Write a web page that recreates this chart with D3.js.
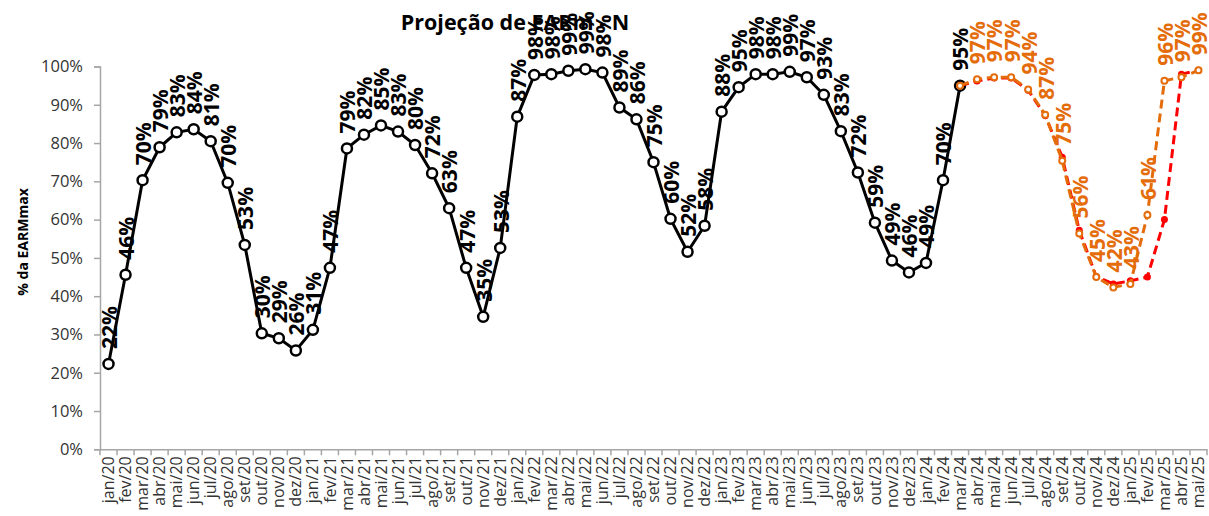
<!DOCTYPE html>
<html><head><meta charset="utf-8">
<script src="https://cdn.jsdelivr.net/npm/d3@7"></script>
<style>
html,body{margin:0;padding:0;background:#fff;}
svg{display:block;font-family:"Open Sans",sans-serif;}
</style></head>
<body><svg id="c" width="1209" height="516"></svg>
<script>
const categories = ["jan/20","fev/20","mar/20","abr/20","mai/20","jun/20","jul/20","ago/20","set/20","out/20","nov/20","dez/20",
"jan/21","fev/21","mar/21","abr/21","mai/21","jun/21","jul/21","ago/21","set/21","out/21","nov/21","dez/21",
"jan/22","fev/22","mar/22","abr/22","mai/22","jun/22","jul/22","ago/22","set/22","out/22","nov/22","dez/22",
"jan/23","fev/23","mar/23","abr/23","mai/23","jun/23","jul/23","ago/23","set/23","out/23","nov/23","dez/23",
"jan/24","fev/24","mar/24","abr/24","mai/24","jun/24","jul/24","ago/24","set/24","out/24","nov/24","dez/24",
"jan/25","fev/25","mar/25","abr/25","mai/25"];

// Verificado (jan/20 .. mar/24)
const verificado = [22.3,45.6,70.3,78.9,82.8,83.6,80.5,69.6,53.4,30.3,29.0,25.8,
 31.2,47.4,78.6,82.2,84.6,83.0,79.5,72.1,63.0,47.4,34.6,52.6,
 86.9,97.8,98.0,98.9,99.3,98.4,89.3,86.2,75.0,60.2,51.6,58.4,
 88.2,94.6,98.0,98.0,98.6,97.2,92.6,83.1,72.3,59.2,49.3,46.2,
 48.7,70.3,95.0];

// Projeções (mar/24 .. mai/25)
const projCategories = ["mar/24","abr/24","mai/24","jun/24","jul/24","ago/24","set/24","out/24","nov/24","dez/24","jan/25","fev/25","mar/25","abr/25","mai/25"];
const projLaranja = [95.0,96.7,97.2,97.2,94.0,87.4,75.4,56.4,45.0,42.3,43.2,61.2,96.3,97.2,99.0];
const projVermelha = [95.0,96.2,97.0,97.0,93.8,87.2,76.3,57.2,45.1,43.2,44.0,45.0,60.0,98.0,99.0];

const yTicks = [0,10,20,30,40,50,60,70,80,90,100];
const chartTitle = "Projeção de EARm - N";
const yTitle = "% da EARMmax";

const svg = d3.select("#c");
const mLeft = 100, mRight = 1207, mTop = 66.5, mBottom = 449.3;

const x = d3.scaleBand().domain(categories).range([mLeft, mRight]).paddingInner(0).paddingOuter(0);
const y = d3.scaleLinear().domain([0, 100]).range([mBottom, mTop]);
const cx = c => x(c) + x.bandwidth() / 2;
const fmt = v => d3.format(".0f")(v) + "%";

// title (drawn first so labels overlap it)
svg.append("text").attr("x", 515).attr("y", 30).attr("text-anchor", "middle")
  .attr("font-size", 21.5).attr("font-weight", "bold").attr("fill", "#000").text(chartTitle);

// y axis
const yAxis = d3.axisLeft(y).tickValues(yTicks).tickFormat(d => d + "%").tickSize(6).tickPadding(11);
const gy = svg.append("g").attr("transform", `translate(${mLeft},0)`).call(yAxis);
gy.select(".domain").attr("stroke", "#a6a6a6").attr("stroke-width", 1.5);
gy.selectAll(".tick line").attr("stroke", "#a6a6a6").attr("stroke-width", 1.5);
gy.selectAll(".tick text").attr("font-size", 16.5).attr("fill", "#333").attr("font-family", "Open Sans, sans-serif");

// x axis
const xAxis = d3.axisBottom(x).tickSize(0).tickPadding(0);
const gx = svg.append("g").attr("transform", `translate(0,${mBottom})`).call(xAxis);
gx.select(".domain").attr("stroke", "#a6a6a6").attr("stroke-width", 1.5);
gx.selectAll(".tick text")
  .attr("font-size", 16).attr("fill", "#333").attr("font-family", "Open Sans, sans-serif")
  .attr("text-anchor", "end").attr("transform", "rotate(-90)")
  .attr("x", -7).attr("y", 0).attr("dy", "0.35em");
// boundary ticks
gx.selectAll(".btick").data(d3.range(categories.length + 1)).enter().append("line")
  .attr("x1", i => mLeft + i * x.step()).attr("x2", i => mLeft + i * x.step())
  .attr("y1", 0).attr("y2", 6).attr("stroke", "#a6a6a6").attr("stroke-width", 1.5);

// y title
svg.append("text").attr("transform", "translate(28,242) rotate(-90)").attr("text-anchor", "middle")
  .attr("font-size", 14).attr("font-weight", "bold").attr("fill", "#000").text(yTitle);

const line = d3.line().x(d => cx(d.c)).y(d => y(d.v));
const vData = verificado.map((v, i) => ({c: categories[i], v}));
const lData = projLaranja.map((v, i) => ({c: projCategories[i], v}));
const rData = projVermelha.map((v, i) => ({c: projCategories[i], v}));

// black series
svg.append("path").datum(vData).attr("d", line).attr("fill", "none").attr("stroke", "#000").attr("stroke-width", 3);
svg.selectAll(".mv").data(vData).enter().append("circle")
  .attr("cx", d => cx(d.c)).attr("cy", d => y(d.v)).attr("r", 5)
  .attr("fill", "#fff").attr("stroke", "#000").attr("stroke-width", 2.5);

// red series
svg.append("path").datum(rData).attr("d", line).attr("fill", "none").attr("stroke", "#ff0000")
  .attr("stroke-width", 3).attr("stroke-dasharray", "9,5");
svg.selectAll(".mr").data(rData).enter().append("circle")
  .attr("cx", d => cx(d.c)).attr("cy", d => y(d.v)).attr("r", 3.5).attr("fill", "#ff0000");

// orange series
const orange = "#e46c0a";
svg.append("path").datum(lData).attr("d", line).attr("fill", "none").attr("stroke", orange)
  .attr("stroke-width", 3).attr("stroke-dasharray", "9,5");
svg.selectAll(".mo").data(lData).enter().append("circle")
  .attr("cx", d => cx(d.c)).attr("cy", d => y(d.v)).attr("r", 3)
  .attr("fill", "#fff").attr("stroke", orange).attr("stroke-width", 2);

// labels
function labels(data, color) {
  svg.selectAll(null).data(data).enter().append("text")
    .attr("transform", d => `translate(${cx(d.c) + 1},${y(d.v) - 15}) rotate(-90)`)
    .attr("dy", "0.35em").attr("text-anchor", "start")
    .attr("font-size", 21).attr("font-weight", "bold").attr("fill", color)
    .text(d => fmt(d.v));
}
labels(lData.slice(1), orange);
labels(vData, "#000");
</script></body></html>
